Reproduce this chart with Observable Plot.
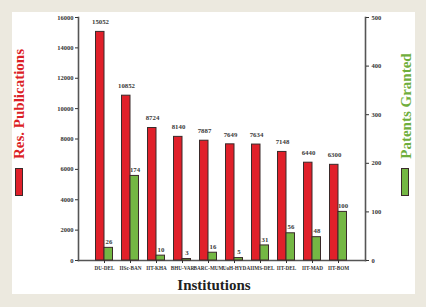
<!DOCTYPE html>
<html>
<head>
<meta charset="utf-8">
<script src="https://cdn.jsdelivr.net/npm/d3@7"></script>
<script src="https://cdn.jsdelivr.net/npm/@observablehq/plot@0.6"></script>
<style>
  html, body { margin: 0; padding: 0; }
  body { width: 426px; height: 307px; background: #ece9df; position: relative; overflow: hidden; font-family: "Liberation Serif", serif; }
  #panel { position: absolute; left: 12px; top: 12px; width: 403px; height: 282px; background: #ffffff; }
  #chart { position: absolute; left: 0; top: 0; }
  .ytitle { position: absolute; white-space: nowrap; font-weight: bold; font-size: 15px; transform: translate(-50%, -50%) rotate(-90deg); }
  .swatch { position: absolute; width: 6px; height: 26px; border: 1px solid #3a2a2a; }
</style>
</head>
<body>
<div id="panel"></div>
<div id="chart"></div>
<div class="ytitle" style="left:19px; top:104px; color:#dc1f26;">Res. Publications</div>
<div class="swatch" style="left:15px; top:168px; background:#e0202a;"></div>
<div class="ytitle" style="left:406px; top:106px; color:#6fae3c;">Patents Granted</div>
<div class="swatch" style="left:401px; top:168px; background:#74b744;"></div>
<script>
const institutions = ["DU-DEL", "IISc-BAN", "IIT-KHA", "BHU-VAR", "BARC-MUM", "UoH-HYD", "AIIMS-DEL", "IIT-DEL", "IIT-MAD", "IIT-BOM"];
const publications = [15052, 10852, 8724, 8140, 7887, 7649, 7634, 7148, 6440, 6300];
const patents = [26, 174, 10, 3, 16, 5, 31, 56, 48, 100];
const pubTicks = [0, 2000, 4000, 6000, 8000, 10000, 12000, 14000, 16000];
const patTicks = [0, 100, 200, 300, 400, 500];

const ratio = 16000 / 500;
const data = institutions.map((inst, i) => ({inst, pubs: publications[i], pats: patents[i]}));

const red = "#e0202a", green = "#74b744", edge = "#3a2a2a", axisColor = "#555";
const font = "Liberation Serif";

const chart = Plot.plot({
  width: 426,
  height: 307,
  marginTop: 17,
  marginBottom: 47,
  marginLeft: 78,
  marginRight: 61,
  style: {background: "transparent", fontFamily: font, color: "#333"},
  x: {type: "band", domain: institutions, range: [91, 351], padding: 0, axis: null},
  y: {domain: [0, 16000], axis: null},
  marks: [
    Plot.frame({anchor: "left", stroke: axisColor, strokeWidth: 1.6}),
    Plot.frame({anchor: "right", stroke: axisColor, strokeWidth: 1.6}),
    Plot.frame({anchor: "bottom", stroke: axisColor, strokeWidth: 1.6}),
    Plot.axisY(pubTicks, {anchor: "left", tickSize: 3, tickPadding: 2, tickFormat: d3.format("d"), fontSize: 6.5, fontWeight: "bold", label: null, stroke: "#333"}),
    Plot.axisY(patTicks.map(d => d * ratio), {anchor: "right", tickSize: 3, tickPadding: 3, tickFormat: d => d / ratio, fontSize: 6.5, fontWeight: "bold", label: null, stroke: "#333"}),
    Plot.axisX({anchor: "bottom", tickSize: 3, tickPadding: 2.5, fontSize: 5.2, fontWeight: "bold", label: null, stroke: "#333"}),
    Plot.barY(data, {x: "inst", y: "pubs", fill: red, stroke: edge, strokeWidth: 1, insetLeft: 4.5, insetRight: 13}),
    Plot.barY(data, {x: "inst", y: d => d.pats * ratio, fill: green, stroke: edge, strokeWidth: 1, insetLeft: 13, insetRight: 4.5}),
    Plot.text(data, {x: "inst", y: "pubs", text: d => String(d.pubs), dx: -4, dy: -10, fontSize: 6.8, fontWeight: "bold", fill: "#3a3a3a"}),
    Plot.text(data, {x: "inst", y: d => d.pats * ratio, text: d => String(d.pats), dx: 4.5, dy: -6, fontSize: 6.8, fontWeight: "bold", fill: "#3a3a3a"}),
    Plot.text(["Institutions"], {frameAnchor: "bottom", dx: -8, dy: 29, fontSize: 15, fontWeight: "bold", fill: "#222"})
  ]
});
document.getElementById("chart").appendChild(chart);
</script>
</body>
</html>
